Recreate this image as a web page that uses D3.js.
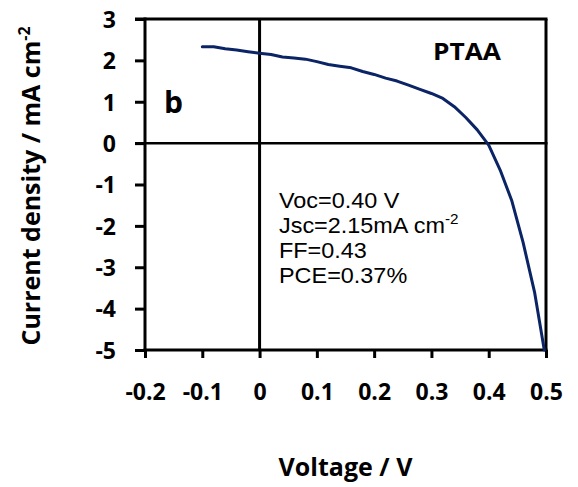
<!DOCTYPE html>
<html>
<head>
<meta charset="utf-8">
<script src="https://cdn.jsdelivr.net/npm/d3@7"></script>
<style>
  html, body { margin: 0; padding: 0; background: #fff; }
  svg { display: block; }
</style>
</head>
<body>
<svg id="chart" width="578" height="487"></svg>
<script>
// J–V curve of the PTAA device
const voltage = [-0.10, -0.08, -0.06, -0.04, -0.02, 0.00, 0.02, 0.04, 0.06, 0.08,
                 0.10, 0.12, 0.14, 0.16, 0.18, 0.20, 0.22, 0.24, 0.26, 0.28,
                 0.30, 0.32, 0.34, 0.36, 0.38, 0.40, 0.42, 0.44, 0.46, 0.48, 0.497];
const current = [2.33, 2.33, 2.28, 2.25, 2.21, 2.17, 2.14, 2.08, 2.06, 2.03,
                 1.97, 1.90, 1.86, 1.82, 1.73, 1.66, 1.57, 1.50, 1.40, 1.30,
                 1.20, 1.08, 0.88, 0.62, 0.32, -0.05, -0.65, -1.38, -2.40, -3.60, -5.00];

const xTicks = [-0.2, -0.1, 0, 0.1, 0.2, 0.3, 0.4, 0.5];
const xTickLabels = ["-0.2", "-0.1", "0", "0.1", "0.2", "0.3", "0.4", "0.5"];
const yTicks = [3, 2, 1, 0, -1, -2, -3, -4, -5];
const yTickLabels = ["3", "2", "1", "0", "-1", "-2", "-3", "-4", "-5"];

const stats = ["Voc=0.40 V", "Jsc=2.15mA cm", "FF=0.43", "PCE=0.37%"];

const svg = d3.select("#chart");
const font = "'Open Sans', 'DejaVu Sans', sans-serif";
const statFont = "'Liberation Sans', Arial, sans-serif";
const margin = { left: 145, right: 32, top: 19, bottom: 137 };
const W = 578, H = 487;

const x = d3.scaleLinear().domain([-0.2, 0.5]).range([margin.left, W - margin.right]);
const y = d3.scaleLinear().domain([-5, 3]).range([H - margin.bottom, margin.top]);

// plot frame: top and right borders
svg.append("line").attr("x1", x(-0.2) - 10).attr("x2", x(0.5) + 1.5)
  .attr("y1", y(3)).attr("y2", y(3)).attr("stroke", "#000").attr("stroke-width", 3);
svg.append("line").attr("x1", x(0.5)).attr("x2", x(0.5))
  .attr("y1", y(3)).attr("y2", y(-5)).attr("stroke", "#000").attr("stroke-width", 3);

// zero lines
svg.append("line").attr("x1", x(-0.2) - 10).attr("x2", x(0.5) + 1.5)
  .attr("y1", y(0)).attr("y2", y(0)).attr("stroke", "#000").attr("stroke-width", 2.5);
svg.append("line").attr("x1", x(0)).attr("x2", x(0))
  .attr("y1", y(3)).attr("y2", y(-5)).attr("stroke", "#000").attr("stroke-width", 3);

// y axis
const yAxis = svg.append("g").attr("transform", `translate(${x(-0.2)},0)`)
  .call(d3.axisLeft(y).tickValues(yTicks).tickSize(10).tickPadding(19)
    .tickFormat((d, i) => yTickLabels[i]));
yAxis.select(".domain").attr("stroke-width", 3);
yAxis.selectAll(".tick line").attr("stroke-width", 3);
yAxis.selectAll(".tick text").attr("font-family", font).attr("font-weight", "bold")
  .attr("font-size", 23).attr("fill", "#000").attr("dy", "0.36em");

// x axis
const xAxis = svg.append("g").attr("transform", `translate(0,${y(-5)})`)
  .call(d3.axisBottom(x).tickValues(xTicks).tickSize(8).tickPadding(26)
    .tickFormat((d, i) => xTickLabels[i]));
xAxis.select(".domain").attr("stroke-width", 3);
xAxis.selectAll(".tick line").attr("stroke-width", 3);
xAxis.selectAll(".tick text").attr("font-family", font).attr("font-weight", "bold")
  .attr("font-size", 23).attr("fill", "#000").attr("dy", "0.71em");
// clean up domain end caps
xAxis.select(".domain").attr("d", `M${x(-0.2) - 1.5},0H${x(0.5) + 1.5}`);
yAxis.select(".domain").attr("d", `M0,${y(-5) + 1.5}V${y(3) - 1.5}`);

// curve
const pts = voltage.map((v, i) => [v, current[i]]);
svg.append("path").datum(pts)
  .attr("fill", "none").attr("stroke", "#0b2466").attr("stroke-width", 3)
  .attr("stroke-linejoin", "round").attr("stroke-linecap", "round")
  .attr("d", d3.line().x(d => x(d[0])).y(d => y(d[1])));

// labels
svg.append("text").attr("x", 433).attr("y", 60).attr("font-family", font)
  .attr("font-weight", "bold").attr("font-size", 24)
  .attr("textLength", 68).attr("lengthAdjust", "spacingAndGlyphs").text("PTAA");
svg.append("text").attr("x", 164).attr("y", 113).attr("font-family", font)
  .attr("font-weight", "bold").attr("font-size", 30).text("b");

// device parameters block
const st = svg.append("g").attr("transform", "translate(279,0) scale(1.09,1)")
  .attr("font-family", statFont).attr("font-size", 21.5).attr("fill", "#000");
stats.forEach((s, i) => {
  const t = st.append("text").attr("x", 0).attr("y", 208 + i * 25).text(s);
  if (i === 1) t.append("tspan").attr("dy", -9).attr("font-size", 14).text("-2");
});

// axis titles
svg.append("text").attr("x", (x(-0.2) + x(0.5)) / 2).attr("y", 476)
  .attr("text-anchor", "middle").attr("font-family", font).attr("font-weight", "bold")
  .attr("font-size", 25).text("Voltage / V");

const yt = svg.append("text").attr("transform", `translate(40,${186}) rotate(-90)`)
  .attr("text-anchor", "middle").attr("font-family", font).attr("font-weight", "bold")
  .attr("font-size", 25);
yt.append("tspan").text("Current density / mA cm");
yt.append("tspan").attr("dy", -10).attr("font-size", 16).text("-2");
</script>
</body>
</html>
